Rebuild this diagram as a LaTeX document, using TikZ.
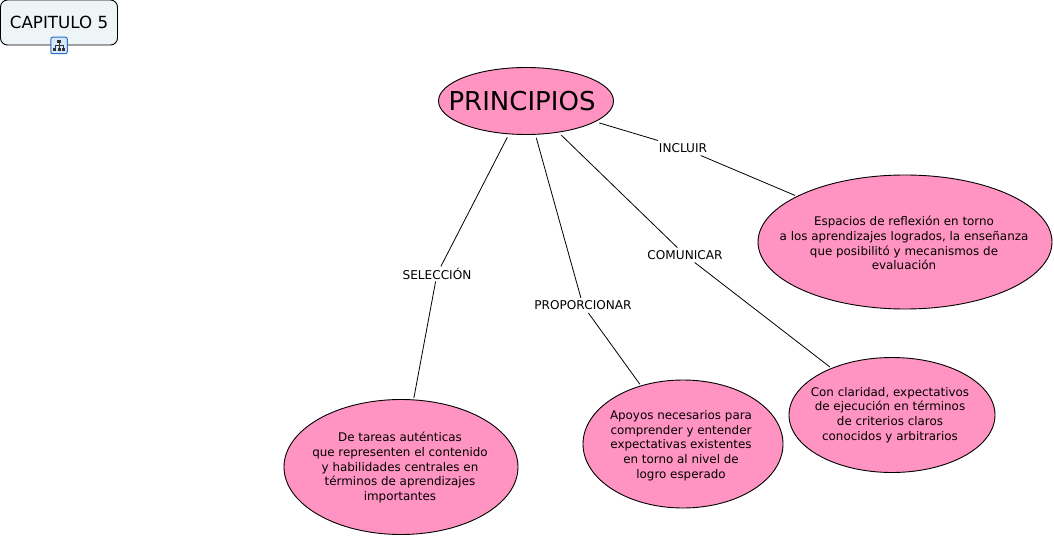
\documentclass[tikz,border=0pt]{standalone}
\usepackage{fontspec}
\setmainfont{DejaVu Sans}
\usetikzlibrary{shapes.geometric}
\definecolor{rosa}{RGB}{255,148,194}
\definecolor{cajita}{RGB}{238,245,246}
\definecolor{iconblue}{RGB}{40,110,200}
\definecolor{iconpale}{RGB}{215,232,250}
\tikzset{
  concepto/.style={ellipse,draw=black,fill=rosa,line width=0.9pt,inner sep=0pt,outer sep=2pt},
  texto/.style={inner sep=0pt,align=center,font=\fontsize{11.9}{14.7}\selectfont},
  enlace/.style={fill=white,inner sep=0pt,outer sep=0pt,minimum width=#1,minimum height=15pt,font=\fontsize{12.1}{14}\selectfont},
  conector/.style={line width=0.8pt,draw=black}
}
\begin{document}
\begin{tikzpicture}[x=1pt,y=-1pt]
\useasboundingbox (0,0) rectangle (1054,537);
\node[draw=black,fill=cajita,rounded corners=7pt,line width=0.9pt,minimum width=117pt,minimum height=45pt,inner sep=0pt,font=\fontsize{16.7}{18}\selectfont] (cap) at (59,22.5) {CAPITULO 5};
\node[draw=iconblue,fill=iconpale,rounded corners=2pt,line width=1pt,minimum size=16.5pt,inner sep=0pt] (icono) at (59,45.5) {};
\begin{scope}[line width=0.7pt,draw=black!80]
\draw (59,42) -- (59,48) (55,49) -- (55,45.5) -- (63,45.5) -- (63,49);
\fill[black!80] (57,40) rectangle (61,43);
\fill[black!80] (53,48.5) rectangle (56,51.5);
\fill[black!80] (57.5,48.5) rectangle (60.5,51.5);
\fill[black!80] (62,48.5) rectangle (65,51.5);
\end{scope}

\node[concepto,outer sep=3.5pt,minimum width=175pt,minimum height=67pt] (p) at (526,101) {};
\node[inner sep=0pt,font=\fontsize{26}{28}\selectfont] (ptxt) at (522,101.5) {PRINCIPIOS};

\node[concepto,minimum width=294pt,minimum height=134pt] (t1) at (905,242) {};
\node[texto] (t1txt) at (904,243) {Espacios de reflexión en torno\\a los aprendizajes logrados, la enseñanza\\que posibilitó y mecanismos de\\evaluación};
\node[concepto,minimum width=234pt,minimum height=135pt] (t2) at (401,467) {};
\node[texto] (t2txt) at (400,467.5) {De tareas auténticas\\que representen el contenido\\y habilidades centrales en\\términos de aprendizajes\\importantes};
\node[concepto,minimum width=200pt,minimum height=128pt] (t3) at (683,444) {};
\node[texto] (t3txt) at (681,445.5) {Apoyos necesarios para\\comprender y entender\\expectativas existentes\\en torno al nivel de\\logro esperado};
\node[concepto,minimum width=206pt,minimum height=115pt] (t4) at (892,415) {};
\node[texto] (t4txt) at (890,415) {Con claridad, expectativos\\de ejecución en términos\\de criterios claros\\conocidos y arbitrarios};

\node[enlace=56pt] (l1) at (683,148) {INCLUIR};
\node[enlace=74pt] (l2) at (437,274) {SELECCIÓN};
\node[enlace=104pt] (l3) at (583,305.5) {PROPORCIONAR};
\node[enlace=80pt] (l4) at (685,255) {COMUNICAR};

\draw[conector] (p) -- (l1);
\draw[conector] (l1) -- (t1);
\draw[conector] (p) -- (l2);
\draw[conector] (l2) -- (t2);
\draw[conector] (p) -- (l3);
\draw[conector] (l3) -- (t3);
\draw[conector] (p) -- (l4);
\draw[conector] (l4) -- (t4);
\end{tikzpicture}
\end{document}
